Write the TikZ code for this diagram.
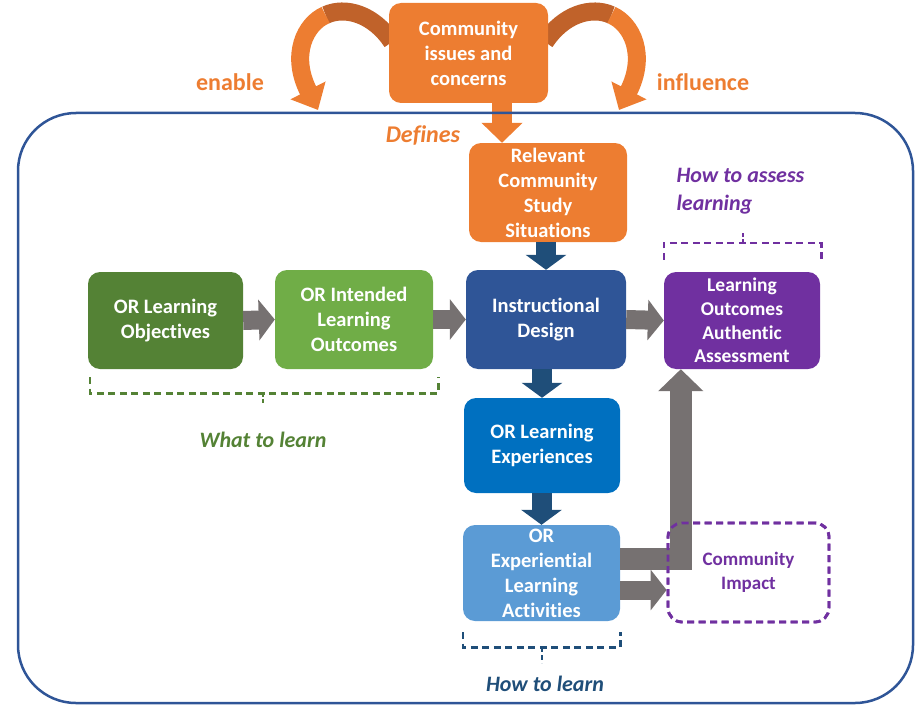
\documentclass[tikz,border=0pt]{standalone}
\usepackage{fontspec}
\setmainfont{Carlito}[Ligatures=NoCommon]
\usetikzlibrary{arrows.meta,calc}
\definecolor{corange}{HTML}{ED7D31}
\definecolor{cdorange}{HTML}{C0622A}
\definecolor{cgreenD}{HTML}{548235}
\definecolor{cgreenL}{HTML}{70AD47}
\definecolor{cblueD}{HTML}{2F5597}
\definecolor{cblue}{HTML}{0070C0}
\definecolor{cblueL}{HTML}{5B9BD5}
\definecolor{cnavy}{HTML}{1F4E79}
\definecolor{cgray}{HTML}{767171}
\definecolor{cpurple}{HTML}{7030A0}
\definecolor{cframe}{HTML}{2F5597}
\begin{document}
\begin{tikzpicture}[x=1pt,y=-1pt,
  box/.style={rounded corners=12pt, text=white, align=center, inner sep=0pt,
    font=\bfseries\fontsize{20.5}{25}\selectfont},
  garrow/.style={draw=cgray, line width=19pt, -{Triangle[length=16pt,width=40pt]}},
  barrow/.style={draw=cnavy, line width=20pt, -{Triangle[length=15pt,width=40pt]}},
  oarrow/.style={draw=corange, line width=20pt, -{Triangle[length=20pt,width=40pt]}},
  curvearrow/.style={draw=corange, line width=18pt, -{Triangle[length=22pt,width=38pt]}},
  curveback/.style={draw=cdorange, line width=18pt},
  bracket/.style={dash pattern=on 7pt off 4.5pt, line width=2.6pt},
  lbl/.style={font=\bfseries\fontsize{24}{28}\selectfont},
  ilbl/.style={font=\bfseries\itshape\fontsize{22}{28}\selectfont}
]
\useasboundingbox (0,0) rectangle (915,706);

% curved arrows (behind top box)
\draw[curveback] (392,42) .. controls (373.5,14) and (345.5,6) .. (325.6,15);
\draw[curvearrow] (325.6,15) .. controls (305,24) and (290,55) .. (318,110);
\draw[curveback] (545,42) .. controls (563.5,14) and (591.5,6) .. (611.4,15);
\draw[curvearrow] (611.4,15) .. controls (632,24) and (647,55) .. (619,110);

% boxes
\node[box, fill=corange, minimum width=159pt, minimum height=100pt] (top) at (468.5,53) {Community\\issues and\\concerns};
\node[box, fill=corange, minimum width=158pt, minimum height=99pt] (rel) at (548,192.5) {Relevant\\Community\\Study\\Situations};
\node[box, fill=cblueD, minimum width=160pt, minimum height=99pt] (instr) at (546,319.5) {Instructional\\Design};
\node[box, fill=cblue, minimum width=156pt, minimum height=95pt] (exp) at (542,445.5) {OR Learning\\Experiences};
\node[box, fill=cblueL, minimum width=157pt, minimum height=96pt] (act) at (541.5,573) {OR\\Experiential\\Learning\\Activities};
\node[box, fill=cgreenD, minimum width=155pt, minimum height=97pt] (obj) at (165.5,320.5) {OR Learning\\Objectives};
\node[box, fill=cgreenL, minimum width=158pt, minimum height=99pt] (int) at (354,319.5) {OR Intended\\Learning\\Outcomes};
\node[box, fill=cpurple, minimum width=156pt, minimum height=97pt,
  font=\bfseries\fontsize{19.5}{23.7}\selectfont] (assess) at (742,320.5) {Learning\\Outcomes\\Authentic\\Assessment};

% arrows
\coordinate (dx) at (502,0);
\draw[oarrow] (top.south -| dx) -- (rel.north -| dx);
\draw[barrow] (rel.south -| instr.north) -- (instr.north);
\draw[barrow] (instr.south -| exp.north) -- (exp.north);
\draw[barrow] (exp.south -| act.north) -- (act.north);
\draw[garrow] (obj.east) -- (int.west);
\draw[garrow] (int.east) -- (instr.west);
\draw[garrow] (instr.east) -- (assess.west);

% community impact
\node[draw=cpurple, bracket, line width=2.8pt, rounded corners=14pt, text=cpurple, align=center,
  font=\bfseries\fontsize{19}{24}\selectfont, minimum width=161pt, minimum height=99pt] (imp) at (748.5,572.5) {Community\\Impact};
\coordinate (up) at ($(assess.south west)+(17,0)$);
\coordinate (lstart) at ($(act.east)+(0,-14)$);
\draw[draw=cgray, line width=22pt, line join=miter, -{Triangle[length=22pt,width=44pt]}]
  (lstart) -| (up);
\coordinate (istart) at ($(act.east)+(0,17)$);
\draw[garrow] (istart) -- (istart -| imp.west);
\node[draw=cpurple, bracket, line width=2.8pt, rounded corners=14pt, minimum width=161pt, minimum height=99pt] at (imp.center) {};

% brackets
\draw[bracket, draw=cgreenD] ($(obj.south west)+(2,8)$) -- ++(0,16) -- ($(int.south east)+(5,24)$) -- ++(0,-16);
\coordinate (gm) at (263,393);
\draw[draw=cgreenD, line width=2.6pt, dash pattern=on 4pt off 2pt] (gm) -- ++(0,10);
\node[ilbl, text=cgreenD] (wtl) at (263,440) {What to learn};

\draw[bracket, draw=cnavy] ($(act.south west)+(0,11)$) -- ++(0,15) -- ($(act.south east)+(0,26)$) -- ++(0,-15);
\coordinate (bm) at (542,647);
\draw[draw=cnavy, line width=2.6pt, dash pattern=on 5pt off 3pt] (bm) -- ++(0,16);
\node[ilbl, text=cnavy] (htl) at (545,684) {How to learn};

\draw[bracket, draw=cpurple] ($(assess.north west)+(0,-12)$) -- ++(0,-17) -- ($(assess.north east)+(1,-29)$) -- ++(0,17);
\coordinate (pm) at (743,243);
\draw[draw=cpurple, line width=2.6pt, dash pattern=on 4pt off 2pt] (pm) -- ++(0,-11);
\node[ilbl, text=cpurple, anchor=west, align=left] (hta) at (673,191) {How to assess\\learning};

% labels
\node[lbl, text=corange] (en) at (230,82) {enable};
\node[lbl, text=corange] (inf) at (703,82) {influence};
\node[ilbl, text=corange, font=\bfseries\itshape\fontsize{24}{28}\selectfont] (def) at (423,135) {Defines};

% outer frame
\draw[cframe, line width=2.5pt, rounded corners=58pt] (18,113) rectangle (913,703);
\end{tikzpicture}
\end{document}
